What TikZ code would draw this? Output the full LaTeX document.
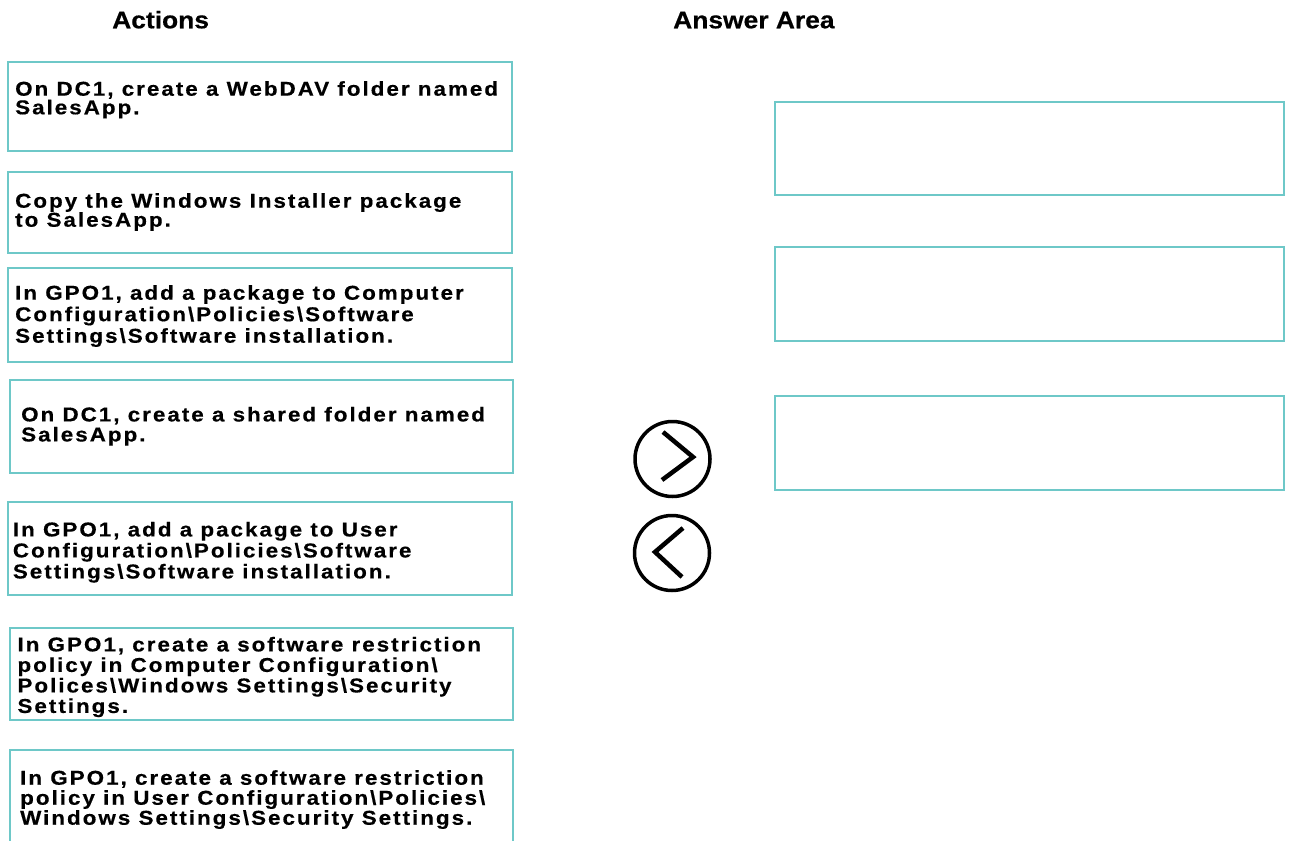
\documentclass[tikz,border=0pt]{standalone}
\usepackage{fontspec}
\setmainfont{Liberation Sans}
\newfontfamily\boxfont[FakeStretch=1.12, LetterSpace=10, BoldFeatures={FakeBold=0.5}]{Liberation Sans}
\newfontfamily\headfont[FakeStretch=1.1, BoldFeatures={FakeBold=0.5}]{Liberation Sans}
\usetikzlibrary{fit}
\definecolor{boxline}{RGB}{110,200,200}
\begin{document}
\begin{tikzpicture}[x=1pt,y=-1pt,
  abox/.style={draw=boxline, line width=1.8pt, inner sep=0pt, rectangle},
  atext/.style={anchor=north west, inner sep=0pt, align=left},
  head/.style={anchor=base west, inner sep=0pt, font=\headfont\bfseries\fontsize{24}{28}\selectfont},
  circ/.style={draw=black, line width=3.5pt, circle, minimum size=75pt, inner sep=0pt},
  chev/.style={draw=black, line width=4.5pt, line join=miter}]
\clip (0,0) rectangle (1289,840);
\fill[white] (0,0) rectangle (1289,840);
% headers
\node[head] (hact) at (112,28.3) {Actions};
\node[head] (hans) at (673,28.3) {Answer Area};
% action boxes
\node[abox, fit={(8,62) (512,151)}] (b1) {};
\node[abox, fit={(8,172) (512,253)}] (b2) {};
\node[abox, fit={(8,268) (512,362)}] (b3) {};
\node[abox, fit={(10,380) (513,473)}] (b4) {};
\node[abox, fit={(8,502) (512,595)}] (b5) {};
\node[abox, fit={(10,628) (513,720)}] (b6) {};
\node[abox, fit={(10,750) (513,870)}] (b7) {};
% texts
\node[atext, font=\boxfont\bfseries\fontsize{20}{15}\selectfont] (t1) at (15,81)
  {On DC1, create a WebDAV folder named\\SalesApp.};
\node[atext, font=\boxfont\bfseries\fontsize{20}{19}\selectfont] (t2) at (15,193)
  {Copy the Windows Installer package\\to SalesApp.};
\node[atext, font=\boxfont\bfseries\fontsize{20}{21.5}\selectfont] (t3) at (15,285)
  {In GPO1, add a package to Computer\\Configuration\textbackslash Policies\textbackslash Software\\Settings\textbackslash Software installation.};
\node[atext, font=\boxfont\bfseries\fontsize{20}{20}\selectfont] (t4) at (21,406.7)
  {On DC1, create a shared folder named\\SalesApp.};
\node[atext, font=\boxfont\bfseries\fontsize{20}{21}\selectfont] (t5) at (12.7,521.7)
  {In GPO1, add a package to User\\Configuration\textbackslash Policies\textbackslash Software\\Settings\textbackslash Software installation.};
\node[atext, font=\boxfont\bfseries\fontsize{20}{20.5}\selectfont] (t6) at (17.3,636.7)
  {In GPO1, create a software restriction\\policy in Computer Configuration\textbackslash\\Polices\textbackslash Windows Settings\textbackslash Security\\Settings.};
\node[atext, font=\boxfont\bfseries\fontsize{20}{20}\selectfont] (t7) at (20,770)
  {In GPO1, create a software restriction\\policy in User Configuration\textbackslash Policies\textbackslash\\Windows Settings\textbackslash Security Settings.};
% answer boxes
\node[abox, fit={(775,102) (1284,195)}] (a1) {};
\node[abox, fit={(775,247) (1284,341)}] (a2) {};
\node[abox, fit={(775,396) (1284,490)}] (a3) {};
% buttons
\node[circ] (fwd) at (672.5,459) {};
\node[circ] (back) at (672,553) {};
\draw[chev] ([shift={(-9.5,-27)}]fwd.center) -- ([shift={(20.5,-2)}]fwd.center) -- ([shift={(-10.5,21)}]fwd.center);
\draw[chev] ([shift={(11,-25)}]back.center) -- ([shift={(-17,-1)}]back.center) -- ([shift={(10,24)}]back.center);
\end{tikzpicture}
\end{document}
